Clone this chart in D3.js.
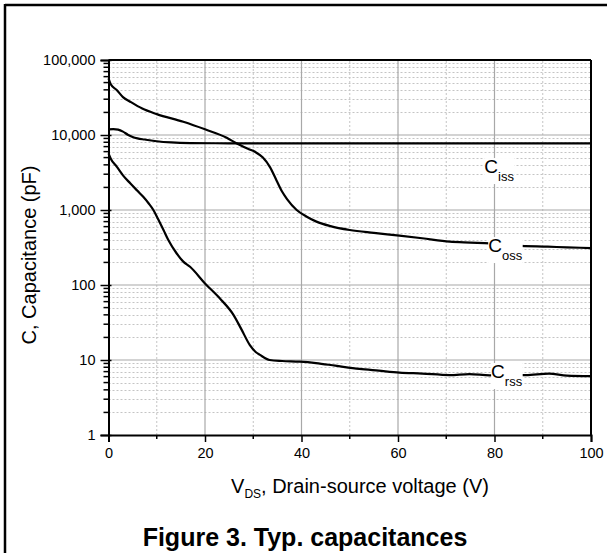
<!DOCTYPE html>
<html>
<head>
<meta charset="utf-8">
<script src="https://cdn.jsdelivr.net/npm/d3@7"></script>
<style>
  body { margin: 0; background: #fff; }
  text { font-family: "Liberation Sans", Arial, sans-serif; fill: #000; }
</style>
</head>
<body>
<svg id="chart" width="607" height="553"></svg>
<script>
      var svg = d3.select("#chart");
      var svgWidth = 607, svgHeight = 553;

      // data ----------------------------------------------------------------
      var vIss = [0, 1, 2, 3, 4, 5, 6, 7.5, 10, 13, 17, 25, 50, 100];
      var cIss = [11900, 12000, 11800, 11100, 10100, 9400, 9000, 8700, 8250, 7950, 7800, 7750, 7750, 7750];

      var vOss = [0, 0.5, 1.7, 3, 4.5, 7, 10, 15.5, 20, 24.5, 26.5, 29, 30.5, 32, 33.5, 34.8, 36, 37, 39, 41, 43.1, 46, 50, 55, 60.3, 65, 70.7, 75, 79, 84.5, 91, 95, 100];
      var cOss = [57000, 47000, 39800, 32000, 27800, 22500, 19000, 15000, 11900, 9200, 7750, 6500, 5900, 5000, 3700, 2500, 1750, 1400, 1000, 820, 700, 610, 541, 495, 455, 420, 378, 368, 360, 334, 324, 318, 311];

      var vRss = [0, 0.5, 1.7, 3, 4.5, 6, 7.2, 8.3, 9.3, 10.3, 11.4, 12.4, 14.1, 15.5, 16.9, 20, 23.1, 25.9, 27.5, 29.3, 30.5, 31.4, 33.4, 36, 39.6, 43, 47, 52, 56, 60.3, 65, 70.7, 74.8, 79, 86.5, 91.3, 95, 100];
      var cRss = [5700, 4800, 3780, 2900, 2270, 1800, 1500, 1230, 1000, 750, 541, 398, 265, 205, 175, 105, 66, 40, 26, 15.8, 12.8, 11.7, 10, 9.7, 9.5, 9.1, 8.4, 7.6, 7.2, 6.8, 6.6, 6.3, 6.5, 6.25, 6.3, 6.6, 6.2, 6.1];

      var xTicks = [0, 20, 40, 60, 80, 100];
      var yTicks = [1, 10, 100, 1000, 10000, 100000];

      // curve labels: subscript, V position, capacitance at baseline
      var labNames = ["iss", "oss", "rss"];
      var labV     = [77.9, 78.7, 79.3];
      var labC     = [3110, 275, 5.75];

      // layout ---------------------------------------------------------------
      var margin = {left: 108.5, top: 60, right: svgWidth - 591, bottom: svgHeight - 435};
      var graphWidth  = svgWidth - margin.left - margin.right;
      var graphHeight = svgHeight - margin.top - margin.bottom;

      var x = d3.scaleLinear().domain([0, 100]).range([margin.left, margin.left + graphWidth]);
      var y = d3.scaleLog().domain([1, 100000]).range([margin.top + graphHeight, margin.top]);

      // frame
      svg.append("line").attr("x1", 5).attr("x2", svgWidth).attr("y1", 5).attr("y2", 5)
         .style("stroke", "#000").style("stroke-width", 2.5);
      svg.append("line").attr("x1", 5).attr("x2", 5).attr("y1", 4).attr("y2", svgHeight)
         .style("stroke", "#000").style("stroke-width", 2.5);

      // minor grid
      var xMinor = d3.range(10, 100, 20);
      var yMinor = [];
      yTicks.slice(0, -1).forEach(function(d) { for (var k = 2; k <= 9; k++) yMinor.push(d * k); });
      var grid = svg.append("g");
      grid.selectAll(".gx2").data(xMinor).enter().append("line")
          .attr("x1", d => x(d)).attr("x2", d => x(d)).attr("y1", y(1)).attr("y2", y(100000))
          .style("stroke", "#c4c4c4").style("stroke-dasharray", "2,2");
      grid.selectAll(".gy2").data(yMinor).enter().append("line")
          .attr("x1", x(0)).attr("x2", x(100)).attr("y1", d => Math.round(y(d)) + 0.5).attr("y2", d => Math.round(y(d)) + 0.5)
          .style("stroke", "#c4c4c4").style("stroke-dasharray", "2,2");
      // major grid
      grid.selectAll(".gx").data(xTicks.slice(1, -1)).enter().append("line")
          .attr("x1", d => x(d)).attr("x2", d => x(d)).attr("y1", y(1)).attr("y2", y(100000))
          .style("stroke", "#a8a8a8").style("stroke-width", 1.2);
      grid.selectAll(".gy").data(yTicks.slice(1, -1)).enter().append("line")
          .attr("x1", x(0)).attr("x2", x(100)).attr("y1", d => y(d)).attr("y2", d => y(d))
          .style("stroke", "#a8a8a8").style("stroke-width", 1.2);

      // curves
      var line = d3.line().curve(d3.curveMonotoneX).x(d => x(d[0])).y(d => y(d[1]));
      [[vIss, cIss], [vOss, cOss], [vRss, cRss]].forEach(function(s) {
        svg.append("path").datum(d3.zip(s[0], s[1])).attr("d", line)
           .style("fill", "none").style("stroke", "#000").style("stroke-width", 2.2);
      });

      // curve labels with white background
      labNames.forEach(function(nm, i) {
        var g = svg.append("g");
        var t = g.append("text").attr("x", x(labV[i])).attr("y", y(labC[i])).style("font-size", "19px");
        t.append("tspan").text("C");
        t.append("tspan").attr("dy", 8).style("font-size", "13px").text(nm);
        var b = t.node().getBBox();
        g.insert("rect", "text").attr("x", b.x).attr("y", b.y + 2).attr("width", b.width).attr("height", b.height - 2)
         .style("fill", "#fff");
      });

      // axes
      var xAxis = d3.axisBottom(x).tickValues(xTicks).tickSize(7).tickPadding(6).tickFormat(d3.format("d"));
      var gx = svg.append("g").attr("transform", "translate(0," + y(1) + ")").call(xAxis);
      xMinor.forEach(function(d) {
        gx.append("line").attr("x1", x(d)).attr("x2", x(d)).attr("y1", 0).attr("y2", 4).style("stroke", "#000").style("stroke-width", 1.5);
      });
      var yAxis = d3.axisLeft(y).tickValues(yTicks).tickSize(8).tickPadding(5).tickFormat(d3.format(","));
      var gy = svg.append("g").attr("transform", "translate(" + x(0) + ",0)").call(yAxis);
      yMinor.forEach(function(d) {
        gy.append("line").attr("x1", -5).attr("x2", 0).attr("y1", y(d)).attr("y2", y(d)).style("stroke", "#000").style("stroke-width", 1.5);
      });
      [gx, gy].forEach(function(g) {
        g.select(".domain").style("stroke", "#000").style("stroke-width", 2);
        g.selectAll(".tick line").style("stroke", "#000").style("stroke-width", 1.5);
        g.selectAll(".tick text").style("font-size", "14.5px").style("font-family", "'Liberation Sans', Arial, sans-serif").style("fill", "#000");
      });
      gy.selectAll(".tick line").attr("x2", 3).attr("x1", -8);
      // top and right border of the plot
      svg.append("line").attr("x1", x(0)).attr("x2", x(100)).attr("y1", y(100000)).attr("y2", y(100000)).style("stroke", "#000").style("stroke-width", 2);
      svg.append("line").attr("x1", x(100)).attr("x2", x(100)).attr("y1", y(100000)).attr("y2", y(1)).style("stroke", "#000").style("stroke-width", 2);

      // axis titles
      var xt = svg.append("text").attr("x", 360).attr("y", 493).attr("text-anchor", "middle").style("font-size", "20px");
      xt.append("tspan").text("V");
      xt.append("tspan").attr("dy", 5).style("font-size", "12px").text("DS");
      xt.append("tspan").attr("dy", -5).text(", Drain-source voltage (V)");

      svg.append("text").attr("transform", "translate(36,255) rotate(-90)").attr("text-anchor", "middle")
         .style("font-size", "20px").text("C, Capacitance (pF)");

      svg.append("text").attr("x", 305).attr("y", 546).attr("text-anchor", "middle")
         .style("font-size", "25px").style("font-weight", "bold").text("Figure 3. Typ. capacitances");
</script>
</body>
</html>
